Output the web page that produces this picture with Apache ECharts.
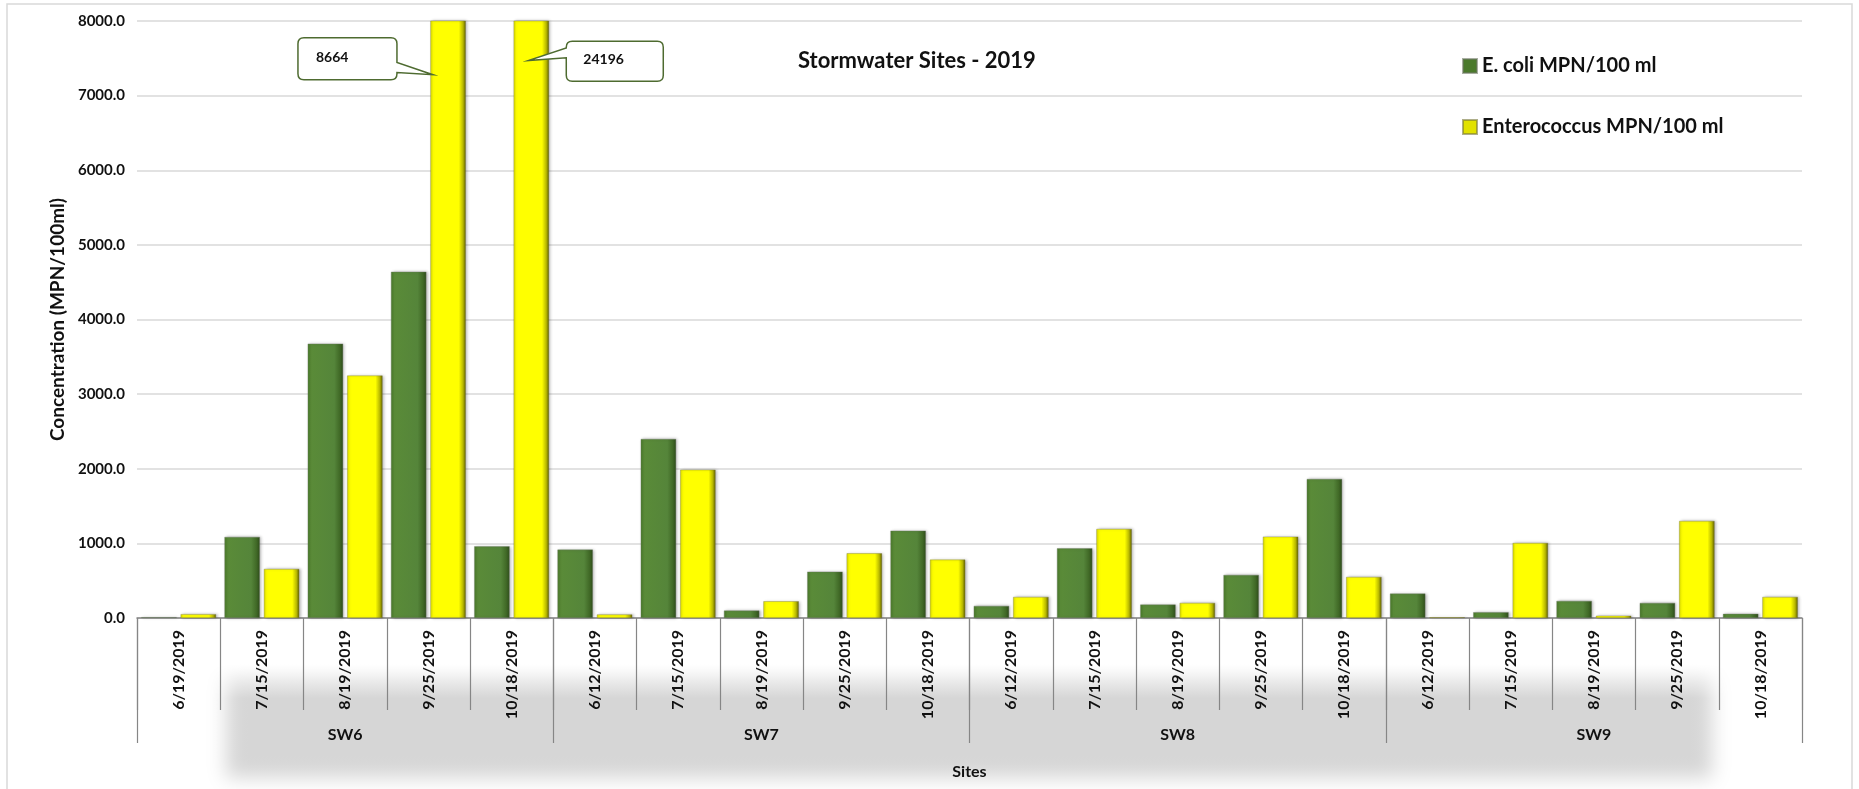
<!DOCTYPE html>
<html>
<head>
<meta charset="utf-8">
<title>Stormwater Sites - 2019</title>
<script src="https://cdn.jsdelivr.net/npm/echarts@6.0.0/dist/echarts.min.js"></script>
<style>
  html, body { margin: 0; padding: 0; background: #ffffff; }
  #chart { width: 1859px; height: 789px; }
</style>
</head>
<body>
<div id="chart"></div>
<script>
// Sampling dates, grouped five per stormwater site
const dates = [
  '6/19/2019', '7/15/2019', '8/19/2019', '9/25/2019', '10/18/2019',
  '6/12/2019', '7/15/2019', '8/19/2019', '9/25/2019', '10/18/2019',
  '6/12/2019', '7/15/2019', '8/19/2019', '9/25/2019', '10/18/2019',
  '6/12/2019', '7/15/2019', '8/19/2019', '9/25/2019', '10/18/2019'
];
const sites = ['SW6', 'SW7', 'SW8', 'SW9'];

// MPN/100 ml results
const ecoli = [
  12, 1087, 3677, 4640, 961,
  917, 2399, 100, 622, 1171,
  163, 935, 181, 578, 1863,
  328, 78, 230, 203, 56
];
const entero = [
  52, 658, 3250, 8664, 24196,
  48, 1988, 225, 868, 783,
  283, 1194, 203, 1091, 551,
  10, 1006, 31, 1301, 283
];

const yTicks = [0, 1000, 2000, 3000, 4000, 5000, 6000, 7000, 8000];

const Y_MIN = yTicks[0];
const Y_MAX = yTicks[yTicks.length - 1];
const Y_STEP = yTicks[1] - yTicks[0];
const FONT = 'Lato, "Open Sans", "DejaVu Sans", sans-serif';
const AXIS_GRAY = '#868686';
const TEXT = '#111111';

// Bevelled bar fills (horizontal shading, dark right edge)
const greenFill = {
  type: 'linear', x: 0, y: 0, x2: 1, y2: 0,
  colorStops: [
    { offset: 0, color: '#4a7a2b' },
    { offset: 0.1, color: '#5a8b38' },
    { offset: 0.75, color: '#55853a' },
    { offset: 0.9, color: '#416a27' },
    { offset: 1, color: '#2f4c1b' }
  ]
};
const yellowFill = {
  type: 'linear', x: 0, y: 0, x2: 1, y2: 0,
  colorStops: [
    { offset: 0, color: '#dada00' },
    { offset: 0.08, color: '#ffff00' },
    { offset: 0.8, color: '#ffff00' },
    { offset: 0.92, color: '#b8b800' },
    { offset: 1, color: '#5c5c00' }
  ]
};

// Callouts for results above the axis maximum: where the pointer touches the bar
const CALLOUT_LAYOUT = [
  { side: 'left', anchor: 7280, shift: 0.055 },
  { side: 'right', anchor: 7470, shift: 0.2 }
];
const calloutData = [];
entero.forEach(function (v, i) {
  if (v > Y_MAX) {
    const cfg = CALLOUT_LAYOUT[calloutData.length];
    calloutData.push([i, cfg.anchor, v]);
  }
});

function calloutPath(x0, y0, x1, y1, r, side, tx, ty, b1, b2) {
  const p = [];
  p.push('M', x0 + r, y0, 'L', x1 - r, y0, 'Q', x1, y0, x1, y0 + r);
  if (side === 'left') {
    // pointer leaves the right edge of the box
    p.push('L', x1, b1, 'L', tx, ty, 'L', x1, b2);
  }
  p.push('L', x1, y1 - r, 'Q', x1, y1, x1 - r, y1);
  p.push('L', x0 + r, y1, 'Q', x0, y1, x0, y1 - r);
  if (side === 'right') {
    // pointer leaves the left edge of the box
    p.push('L', x0, b2, 'L', tx, ty, 'L', x0, b1);
  }
  p.push('L', x0, y0 + r, 'Q', x0, y0, x0 + r, y0, 'Z');
  return p.join(' ');
}

function renderCallout(params, api) {
  const cfg = CALLOUT_LAYOUT[params.dataIndex];
  const pt = api.coord([api.value(0), api.value(1)]);
  const band = api.size([1, 0])[0];
  const tx = pt[0] + cfg.shift * band;
  const ty = pt[1];
  let x0, x1, y0, y1, b1, b2, textX, textY;
  if (cfg.side === 'left') {
    x1 = tx - 36; x0 = x1 - 99; y0 = ty - 37; y1 = ty + 5;
    b1 = ty - 12.3; b2 = ty - 2.3;
    textX = x0 + 18; textY = y0 + 20;
  } else {
    x0 = tx + 38; x1 = x0 + 97; y0 = ty - 19.3; y1 = ty + 20.7;
    b1 = ty - 12.7; b2 = ty - 2.7;
    textX = x0 + 17; textY = y0 + 18.5;
  }
  return {
    type: 'group',
    children: [
      {
        type: 'path',
        shape: { pathData: calloutPath(x0, y0, x1, y1, 6, cfg.side, tx, ty, b1, b2) },
        style: { fill: '#ffffff', stroke: '#4e6b30', lineWidth: 1.5 }
      },
      {
        type: 'text',
        x: textX,
        y: textY,
        style: {
          text: String(api.value(2)),
          fill: TEXT,
          fontFamily: FONT,
          fontSize: 14,
          fontWeight: 'bold',
          align: 'left',
          verticalAlign: 'middle'
        }
      }
    ]
  };
}

const chart = echarts.init(document.getElementById('chart'), null, { renderer: 'canvas' });

// The grey panel is painted only through its blurred shadow, so every edge is soft
const PANEL_SHIFT = 3000;

const option = {
  backgroundColor: '#ffffff',
  animation: false,
  title: {
    text: 'Stormwater Sites - 2019',
    left: 793,
    top: 45,
    textStyle: { fontFamily: FONT, fontSize: 22, fontWeight: 'bold', color: TEXT }
  },
  legend: {
    orient: 'vertical',
    left: 1457,
    top: 49,
    icon: 'rect',
    itemWidth: 14,
    itemHeight: 14,
    itemGap: 37,
    selectedMode: false,
    textStyle: { fontFamily: FONT, fontSize: 20, fontWeight: 'bold', color: TEXT, lineHeight: 24 },
    data: [
      { name: 'E. coli MPN/100 ml', itemStyle: { color: '#4b7a2c' } },
      { name: 'Enterococcus MPN/100 ml', itemStyle: { color: '#e2e200' } }
    ]
  },
  grid: { left: 137, right: 57, top: 21, bottom: 171 },
  xAxis: [
    {
      type: 'category',
      data: dates,
      axisLine: { lineStyle: { color: AXIS_GRAY, width: 1.5 } },
      axisTick: { show: true, alignWithLabel: false, length: 92, lineStyle: { color: AXIS_GRAY, width: 1.2 } },
      axisLabel: {
        interval: 0, rotate: 90, margin: 12,
        fontFamily: FONT, fontSize: 16, fontWeight: 'bold', color: TEXT
      },
      splitLine: { show: false }
    },
    {
      type: 'category',
      data: sites,
      position: 'bottom',
      axisLine: { show: false },
      axisTick: { show: true, alignWithLabel: false, length: 125, lineStyle: { color: AXIS_GRAY, width: 1.2 } },
      axisLabel: { interval: 0, margin: 109, fontFamily: FONT, fontSize: 16, fontWeight: 'bold', color: TEXT },
      splitLine: { show: false },
      name: 'Sites',
      nameLocation: 'middle',
      nameGap: 146,
      nameTextStyle: { fontFamily: FONT, fontSize: 16, fontWeight: 'bold', color: TEXT }
    }
  ],
  yAxis: {
    type: 'value',
    min: Y_MIN,
    max: Y_MAX,
    interval: Y_STEP,
    axisLine: { show: false },
    axisTick: { show: false },
    splitLine: { lineStyle: { color: '#d9d9d9', width: 1.5 } },
    axisLabel: {
      margin: 12,
      formatter: function (v) { return v.toFixed(1); },
      fontFamily: FONT, fontSize: 15, fontWeight: 'bold', color: TEXT
    },
    name: 'Concentration (MPN/100ml)',
    nameLocation: 'middle',
    nameGap: 64,
    nameTextStyle: { fontFamily: FONT, fontSize: 19, fontWeight: 'bold', color: TEXT }
  },
  series: [
    {
      name: 'E. coli MPN/100 ml',
      type: 'bar',
      data: ecoli,
      barCategoryGap: '10%',
      barGap: '11%',
      itemStyle: {
        color: greenFill,
        borderColor: 'rgba(110,120,100,0.6)',
        borderWidth: 0.6,
        shadowColor: 'rgba(0,0,0,0.3)',
        shadowBlur: 3,
        shadowOffsetX: 1.5
      }
    },
    {
      name: 'Enterococcus MPN/100 ml',
      type: 'bar',
      data: entero,
      barCategoryGap: '10%',
      barGap: '11%',
      itemStyle: {
        color: yellowFill,
        borderColor: 'rgba(120,120,60,0.6)',
        borderWidth: 0.6,
        shadowColor: 'rgba(0,0,0,0.3)',
        shadowBlur: 3,
        shadowOffsetX: 1.5
      }
    },
    {
      type: 'custom',
      name: 'callouts',
      data: calloutData,
      renderItem: renderCallout,
      clip: false,
      silent: true,
      z: 10
    }
  ],
  graphic: [
    {
      // soft grey panel behind the site labels
      type: 'rect',
      z: -10,
      silent: true,
      shape: { x: 226 - PANEL_SHIFT, y: 664, width: 1486, height: 114 },
      style: {
        fill: {
          type: 'linear', x: 0, y: 0, x2: 0, y2: 1,
          colorStops: [
            { offset: 0, color: 'rgba(0,0,0,0)' },
            { offset: 0.3, color: 'rgba(0,0,0,1)' },
            { offset: 1, color: 'rgba(0,0,0,1)' }
          ]
        },
        shadowColor: 'rgba(214,214,214,1)',
        shadowBlur: 18,
        shadowOffsetX: PANEL_SHIFT,
        shadowOffsetY: 0
      }
    },
    {
      // chart frame
      type: 'rect',
      z: -5,
      silent: true,
      shape: { x: 7, y: 4, width: 1845, height: 800 },
      style: { fill: 'none', stroke: '#d9d9d9', lineWidth: 1.5 }
    }
  ]
};

chart.setOption(option);
</script>
</body>
</html>
